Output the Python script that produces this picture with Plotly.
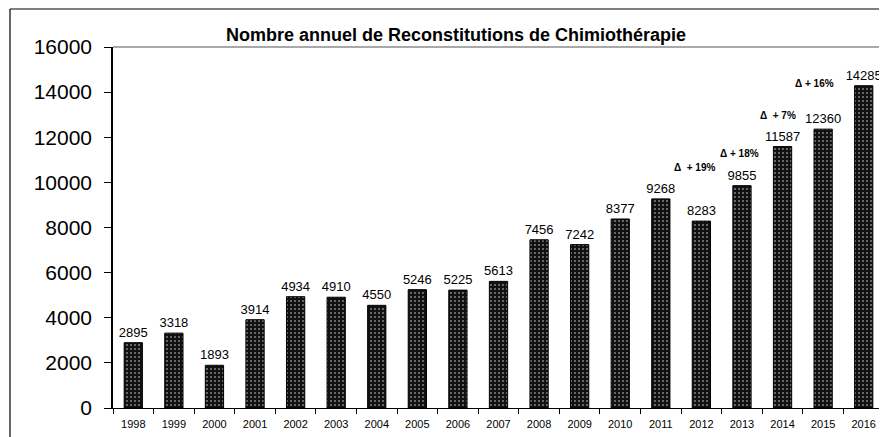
import plotly.graph_objects as go

# ---- data ----
years = ["1998", "1999", "2000", "2001", "2002", "2003", "2004", "2005", "2006", "2007",
         "2008", "2009", "2010", "2011", "2012", "2013", "2014", "2015", "2016"]
values = [2895, 3318, 1893, 3914, 4934, 4910, 4550, 5246, 5225, 5613,
          7456, 7242, 8377, 9268, 8283, 9855, 11587, 12360, 14285]
y_ticks = [0, 2000, 4000, 6000, 8000, 10000, 12000, 14000, 16000]
delta_texts = ["\u0394  + 19%", "\u0394 + 18%", "\u0394  + 7%", "\u0394 + 16%"]
delta_years = ["2013", "2014", "2015", "2016"]
title_text = "Nombre annuel de Reconstitutions de Chimiothérapie"

FONT = "Arial, Liberation Sans, sans-serif"

# page has an 8px body margin: work in window pixels, convert to figure pixels
OFF = 8
W, H = 887 - OFF, 437 - OFF
L, R, T, B = 113 - OFF, 884 - OFF, 47 - OFF, 408 - OFF

def px_x(p):
    return (p - OFF - L) / (R - L)

def px_y(p):
    return (B - (p - OFF)) / (B - T)

fig = go.Figure()
fig.add_trace(go.Bar(
    x=years, y=values,
    text=[str(v) for v in values],
    textposition="outside",
    constraintext="none",
    textfont=dict(family=FONT, size=13, color="black"),
    cliponaxis=False,
    marker=dict(color="#111111",
                line=dict(color="black", width=1),
                pattern=dict(shape=".", fgcolor="white", bgcolor="#111111",
                             size=4, solidity=0.18)),
    width=0.45,
))

# delta annotations: placed left/above relative to the target year's bar
delta_offsets = [(-1.16, 10681), (-1.07, 11258), (-1.10, 12986), (-1.22, 14404)]
annotations = []
for txt, yr, (dx, yv) in zip(delta_texts, delta_years, delta_offsets):
    idx = years.index(yr) + dx
    annotations.append(dict(x=idx, y=yv, xref="x", yref="y", text=txt,
                            showarrow=False, xanchor="center", yanchor="middle",
                            font=dict(family=FONT, size=10, color="black", weight="bold")))

annotations.append(dict(x=px_x(456), y=px_y(35), xref="paper", yref="paper",
                        xanchor="center", yanchor="middle",
                        text="<b>" + title_text + "</b>", showarrow=False,
                        font=dict(family=FONT, size=18, color="black")))

shapes = [
    # outer frame
    dict(type="line", xref="paper", yref="paper", x0=px_x(10), x1=px_x(10),
         y0=px_y(9), y1=px_y(437), line=dict(color="black", width=1.2)),
    dict(type="line", xref="paper", yref="paper", x0=px_x(10), x1=px_x(884),
         y0=px_y(9), y1=px_y(9), line=dict(color="black", width=1.2)),
    dict(type="line", xref="paper", yref="paper", x0=px_x(884), x1=px_x(884),
         y0=px_y(9), y1=px_y(437), line=dict(color="black", width=1.2)),
    # plot top border
    dict(type="line", xref="paper", yref="paper", x0=0, x1=1,
         y0=1, y1=1, line=dict(color="#555555", width=1.2)),
]

fig.update_layout(
    width=W, height=H,
    margin=dict(l=L, r=W - R, t=T, b=H - B, autoexpand=False),
    paper_bgcolor="white", plot_bgcolor="white",
    showlegend=False,
    bargap=0.55,
    annotations=annotations,
    shapes=shapes,
    font=dict(family=FONT, color="black"),
)
fig.update_xaxes(
    type="category",
    showline=True, linecolor="black", linewidth=1.2,
    ticks="outside", tickson="boundaries", ticklen=5, tickcolor="black",
    ticklabelstandoff=6,
    tickfont=dict(family=FONT, size=11, color="black"),
    showgrid=False, zeroline=False,
)
fig.update_yaxes(
    range=[0, 16000],
    tickvals=y_ticks, ticktext=[str(v) for v in y_ticks],
    showline=True, linecolor="black", linewidth=1.5,
    ticks="outside", ticklen=7, tickcolor="black",
    ticklabelstandoff=8,
    tickfont=dict(family=FONT, size=21, color="black"),
    showgrid=False, zeroline=False,
)

fig.write_html("out.html")
